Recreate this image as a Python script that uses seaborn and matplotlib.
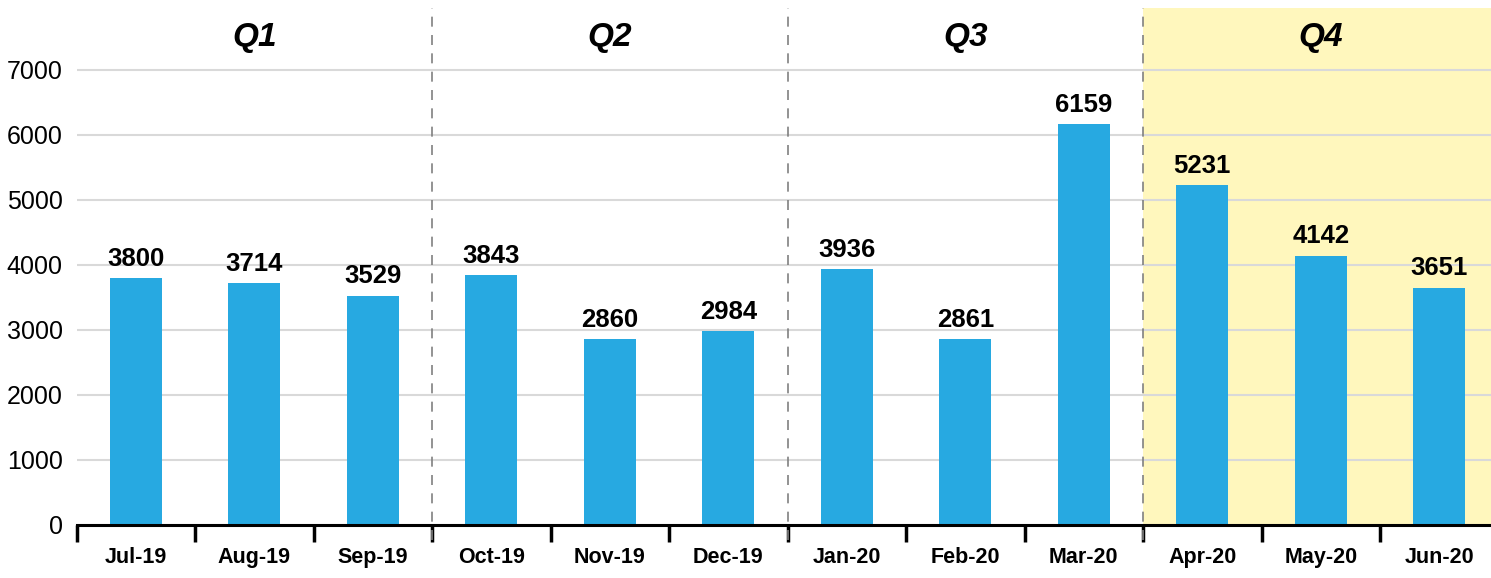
import matplotlib
matplotlib.use("Agg")
import matplotlib.pyplot as plt
import seaborn as sns
import pandas as pd
from matplotlib.ticker import FixedLocator

months = ["Jul-19", "Aug-19", "Sep-19", "Oct-19", "Nov-19", "Dec-19",
          "Jan-20", "Feb-20", "Mar-20", "Apr-20", "May-20", "Jun-20"]
values = [3800, 3714, 3529, 3843, 2860, 2984, 3936, 2861, 6159, 5231, 4142, 3651]
quarters = ["Q1", "Q2", "Q3", "Q4"]
yticks = [0, 1000, 2000, 3000, 4000, 5000, 6000, 7000]

sns.set_style("white")
plt.rcParams['font.family'] = ['Liberation Sans', 'DejaVu Sans']
plt.rcParams['text.color'] = 'black'
plt.rcParams['xtick.color'] = 'black'
plt.rcParams['ytick.color'] = 'black'

fig = plt.figure(figsize=(14.91, 5.78), dpi=100)
ax = fig.add_axes([76.5/1491, 53/578, 1422/1491, 517/578])

df = pd.DataFrame({"month": months, "value": values})
n = len(months)

# Q4 highlight
ax.axvspan(8.5, n - 0.5, color="#FFF7BD", zorder=0, lw=0)

sns.barplot(data=df, x="month", y="value", color="#27A9E1", width=0.44,
            saturation=1, linewidth=0, edgecolor="none", ax=ax, zorder=3)

ax.set_xlim(-0.5, n - 0.5)
ax.set_ylim(0, 7950)
ax.set_yticks(yticks)
ax.yaxis.grid(True, color="#D9D9D9", lw=1.5, zorder=1)
ax.set_axisbelow(True)
ax.tick_params(axis="y", length=0, labelsize=18, pad=10, labelcolor="black")

# x ticks: major at boundaries, labels at centers
ax.xaxis.set_major_locator(FixedLocator([i - 0.5 for i in range(n + 1)]))
ax.set_xticklabels([])
ax.xaxis.set_minor_locator(FixedLocator(list(range(n))))
ax.set_xticklabels(months, minor=True, fontsize=15.5, fontweight="bold")
ax.tick_params(axis="x", which="major", bottom=True, length=12, width=2.5,
               color="black", direction="out")
ax.tick_params(axis="x", which="minor", bottom=True, length=0, pad=16,
               labelcolor="black")
ax.set_xlabel("")
ax.set_ylabel("")

for s in ["left", "right", "top"]:
    ax.spines[s].set_visible(False)
ax.spines["bottom"].set_color("black")
ax.spines["bottom"].set_linewidth(2.2)
ax.spines["bottom"].set_zorder(5)

# quarter separators
for xb in [2.5, 5.5, 8.5]:
    ax.plot([xb, xb], [-230, 7950], color="#808080", lw=1.2, ls=(0, (6, 5)),
            clip_on=False, zorder=4)

# quarter labels
for i, q in enumerate(quarters):
    ax.text(3 * i + 1, 7490, q, ha="center", va="center", fontsize=24,
            fontweight="bold", fontstyle="italic", color="black", zorder=6)

# value labels
for i, v in enumerate(values):
    ax.text(i, v + 110, f"{v}", ha="center", va="bottom", fontsize=18.5,
            fontweight="bold", color="black", zorder=6)

fig.savefig("out.png", dpi=100)
